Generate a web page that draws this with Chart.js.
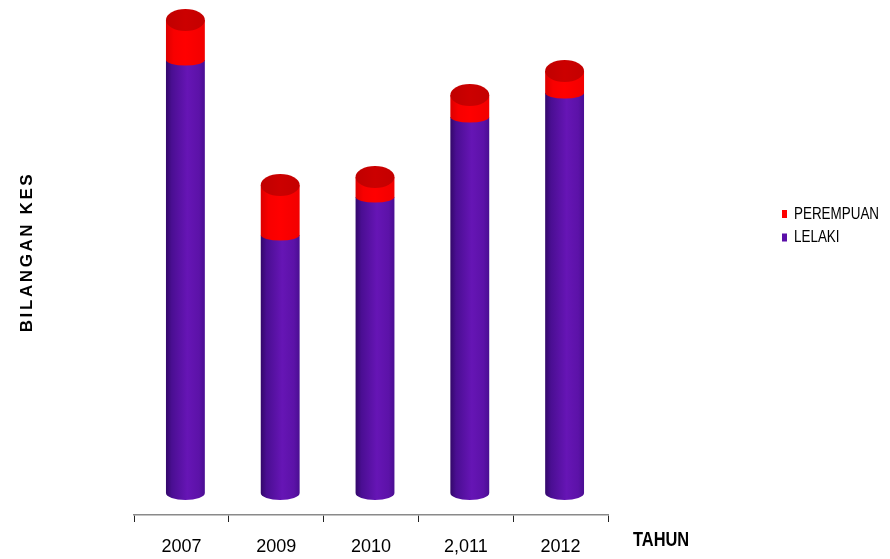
<!DOCTYPE html>
<html>
<head>
<meta charset="utf-8">
<script src="https://cdn.jsdelivr.net/npm/chart.js@4.4.1/dist/chart.umd.min.js"></script>
<style>
html,body{margin:0;padding:0;background:#fff;}
#wrap{width:890px;height:559px;position:relative;}
</style>
</head>
<body>
<div id="wrap"><canvas id="c" width="890" height="559"></canvas></div>
<script>
const categories = ['2007', '2009', '2010', '2,011', '2012'];
const lelaki = [433, 258, 296, 376, 400];
const perempuan = [40, 50, 20, 22, 22];
const seriesNames = ['LELAKI', 'PEREMPUAN'];
const yAxisTitle = 'BILANGAN KES';
const xAxisTitle = 'TAHUN';

function hasFont(name) {
  const c = document.createElement('canvas').getContext('2d');
  const s = 'abcdefghiWMmlli0123456789';
  c.font = '40px monospace';
  const w1 = c.measureText(s).width;
  c.font = "40px '" + name + "', monospace";
  const w2 = c.measureText(s).width;
  return Math.abs(w1 - w2) > 0.5;
}
const SANS = "'Liberation Sans', Arial, sans-serif";
let NARROW = null;
if (hasFont('Liberation Sans Narrow')) NARROW = "'Liberation Sans Narrow', sans-serif";
else if (hasFont('Arial Narrow')) NARROW = "'Arial Narrow', sans-serif";
const tickFont = NARROW ? { family: NARROW, size: 19 } : { family: SANS, size: 18 };

function drawCondensed(ctx, text, x, y, font, narrowFont, sx) {
  ctx.save();
  if (NARROW) {
    ctx.font = narrowFont;
    ctx.fillText(text, x, y);
  } else {
    ctx.font = font;
    ctx.translate(x, y);
    ctx.scale(sx, 1);
    ctx.fillText(text, 0, 0);
  }
  ctx.restore();
}

const depthDX = 4, depthDY = -22;
const legendColors = ['#5a0fa8', '#ff0000'];

function purpleGrad(ctx, x0, x1) {
  const g = ctx.createLinearGradient(x0, 0, x1, 0);
  g.addColorStop(0, '#33086a');
  g.addColorStop(0.15, '#4a0e92');
  g.addColorStop(0.55, '#6615b5');
  g.addColorStop(0.85, '#5c12a8');
  g.addColorStop(1, '#4a0e92');
  return g;
}
function redGrad(ctx, x0, x1) {
  const g = ctx.createLinearGradient(x0, 0, x1, 0);
  g.addColorStop(0, '#dc0000');
  g.addColorStop(0.2, '#f80000');
  g.addColorStop(0.5, '#ff0000');
  g.addColorStop(1, '#f20000');
  return g;
}

const cylinderPlugin = {
  id: 'cylinders',
  afterDatasetsDraw(chart) {
    const ctx = chart.ctx;
    const nSets = chart.data.datasets.length;
    const n = chart.data.labels.length;
    ctx.save();
    for (let i = 0; i < n; i++) {
      for (let d = 0; d < nSets; d++) {
        const meta = chart.getDatasetMeta(d);
        const el = meta.data[i];
        if (!el) continue;
        const p = el.getProps(['x', 'y', 'base', 'width'], true);
        const cx = p.x + depthDX;
        const r = p.width / 2;
        const yt = p.y + depthDY;
        const yb = p.base + depthDY;
        const ryB = d === 0 ? 7 : 5.5;
        ctx.beginPath();
        ctx.moveTo(cx - r, yt);
        ctx.lineTo(cx - r, yb);
        ctx.ellipse(cx, yb, r, ryB, 0, Math.PI, 0, true);
        ctx.lineTo(cx + r, yt);
        ctx.closePath();
        ctx.fillStyle = d === 0 ? purpleGrad(ctx, cx - r, cx + r) : redGrad(ctx, cx - r, cx + r);
        ctx.fill();
        if (d === nSets - 1) {
          const g = ctx.createLinearGradient(cx - r, 0, cx + r, 0);
          g.addColorStop(0, '#c00000');
          g.addColorStop(0.5, '#cc0000');
          g.addColorStop(1, '#c40000');
          ctx.beginPath();
          ctx.ellipse(cx, yt, r, 11, 0, 0, Math.PI * 2);
          ctx.fillStyle = g;
          ctx.fill();
        }
      }
    }
    ctx.restore();
  },
  afterDraw(chart) {
    const ctx = chart.ctx;
    ctx.save();
    ctx.translate(27, 252);
    ctx.rotate(-Math.PI / 2);
    ctx.font = "bold 17px " + SANS;
    try { ctx.letterSpacing = '2.6px'; } catch (e) {}
    ctx.fillStyle = '#000';
    ctx.textAlign = 'center';
    ctx.textBaseline = 'middle';
    ctx.fillText(yAxisTitle, 0, 0);
    ctx.restore();

    ctx.save();
    ctx.fillStyle = '#000';
    ctx.textAlign = 'left';
    ctx.textBaseline = 'middle';
    drawCondensed(ctx, xAxisTitle, 633, 540, "bold 20px " + SANS, "bold 20px " + (NARROW || SANS), 0.82);
    ctx.restore();

    ctx.save();
    ctx.textBaseline = 'middle';
    ctx.textAlign = 'left';
    const ds = chart.data.datasets;
    let y = 214;
    for (let k = ds.length - 1; k >= 0; k--) {
      ctx.fillStyle = legendColors[k];
      ctx.fillRect(782, y - 4, 5, 8);
      ctx.fillStyle = '#000';
      drawCondensed(ctx, ds[k].label, 794, y, "17px " + SANS, "16.5px " + (NARROW || SANS), 0.79);
      y += 23.5;
    }
    ctx.restore();
  }
};

new Chart(document.getElementById('c'), {
  type: 'bar',
  data: {
    labels: categories,
    datasets: [
      { label: seriesNames[0], data: lelaki, backgroundColor: 'rgba(0,0,0,0)', borderWidth: 0 },
      { label: seriesNames[1], data: perempuan, backgroundColor: 'rgba(0,0,0,0)', borderWidth: 0 }
    ]
  },
  options: {
    responsive: false,
    animation: false,
    devicePixelRatio: 1,
    layout: { padding: { left: 134, right: 282, top: 15, bottom: 0 } },
    datasets: { bar: { categoryPercentage: 1, barPercentage: 0.41 } },
    plugins: { legend: { display: false }, tooltip: { enabled: false } },
    scales: {
      x: {
        stacked: true,
        offset: true,
        afterFit: (scale) => { scale.height = 44; },
        grid: { display: true, offset: true, drawOnChartArea: false, drawTicks: true, tickLength: 7, color: '#222', lineWidth: 1 },
        border: { display: true, color: '#8a8a8a', width: 1.5 },
        ticks: { color: '#000', font: tickFont, padding: 14, maxRotation: 0, autoSkip: false }
      },
      y: {
        stacked: true,
        display: false,
        min: 0,
        max: 500
      }
    }
  },
  plugins: [cylinderPlugin]
});
</script>
</body>
</html>
